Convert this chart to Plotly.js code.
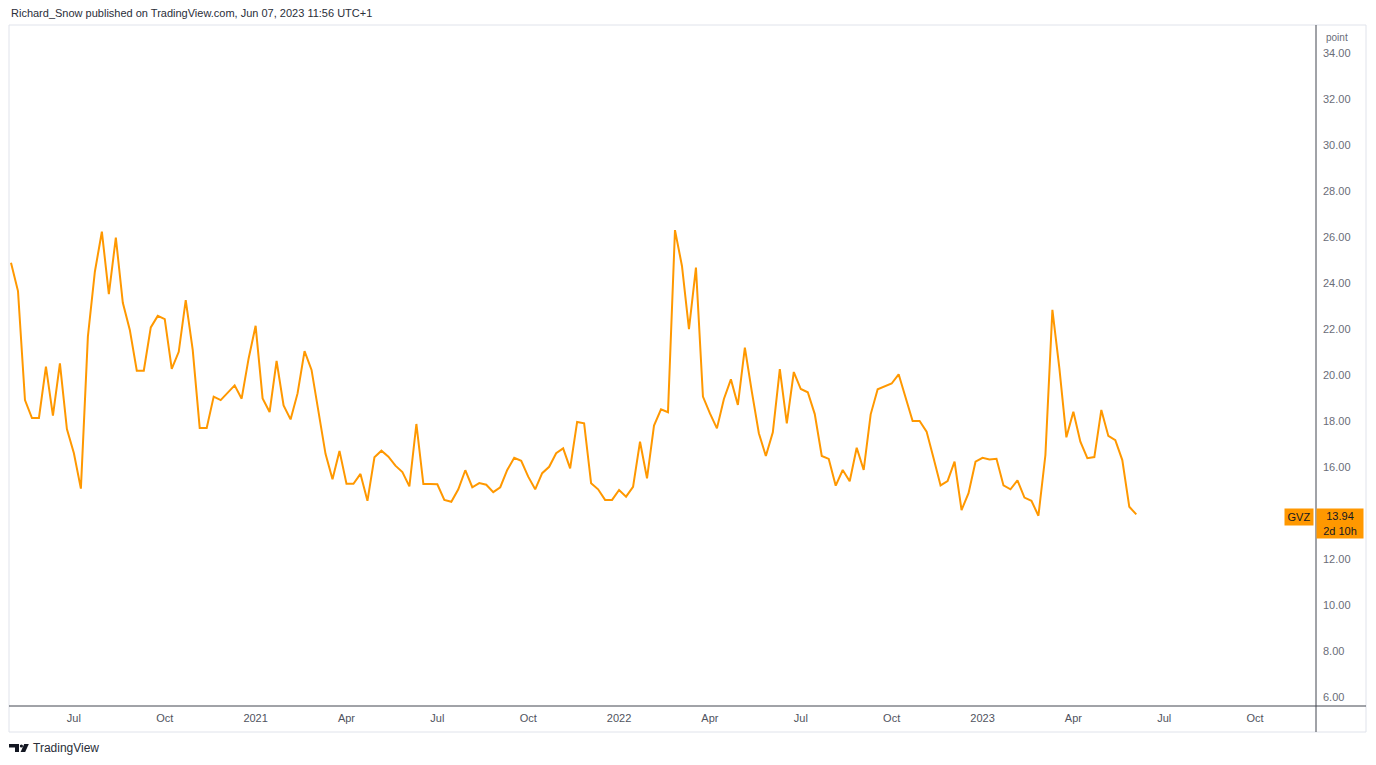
<!DOCTYPE html>
<html>
<head>
<meta charset="utf-8">
<script src="https://cdn.plot.ly/plotly-3.0.1.min.js"></script>
<style>
html,body{margin:0;padding:0;background:#ffffff;}
#chart{width:1376px;height:765px;}
</style>
</head>
<body>
<div id="chart"></div>
<script>
// ---- data ----
const seriesName = 'GVZ';
const firstBarDate = '2020-05-04';      // first weekly bar (Monday)
const barStepDays = 7;                   // weekly bars
const gvzValues = [
  24.88, 23.65, 18.91, 18.13, 18.13, 20.36, 18.23, 20.51, 17.65, 16.60,
  15.06, 21.67, 24.49, 26.23, 23.52, 25.97, 23.14, 21.96, 20.19, 20.19,
  22.07, 22.57, 22.43, 20.27, 21.01, 23.26, 21.09, 17.70, 17.70, 19.06,
  18.91, 19.24, 19.55, 18.97, 20.72, 22.14, 18.98, 18.39, 20.61, 18.68,
  18.07, 19.20, 21.04, 20.22, 18.40, 16.57, 15.47, 16.70, 15.27, 15.27,
  15.70, 14.53, 16.42, 16.71, 16.45, 16.06, 15.78, 15.16, 17.87, 15.26,
  15.26, 15.25, 14.57, 14.49, 15.03, 15.86, 15.12, 15.30, 15.23, 14.91,
  15.12, 15.87, 16.40, 16.27, 15.58, 15.03, 15.73, 16.01, 16.60, 16.81,
  15.94, 17.96, 17.90, 15.29, 15.03, 14.57, 14.57, 15.00, 14.71, 15.14,
  17.10, 15.51, 17.80, 18.51, 18.38, 26.30, 24.74, 21.99, 24.67, 19.06,
  18.33, 17.68, 18.96, 19.81, 18.70, 21.19, 19.27, 17.47, 16.48, 17.51,
  20.26, 17.90, 20.13, 19.39, 19.25, 18.30, 16.48, 16.35, 15.19, 15.87,
  15.38, 16.84, 15.87, 18.29, 19.38, 19.49, 19.63, 20.03, 19.01, 18.00,
  18.00, 17.54, 16.38, 15.20, 15.39, 16.23, 14.13, 14.86, 16.23, 16.40,
  16.33, 16.36, 15.20, 15.03, 15.42, 14.67, 14.53, 13.88, 16.52, 22.83,
  20.29, 17.29, 18.40, 17.10, 16.38, 16.43, 18.48, 17.35, 17.17, 16.30,
  14.27, 13.94
];
const lastValue = 13.94;
const lastValueCountdown = '2d 10h';
const xTickVals = ['2020-07-06','2020-10-05','2021-01-04','2021-04-05','2021-07-05','2021-10-04',
                   '2022-01-03','2022-04-04','2022-07-04','2022-10-03','2023-01-02','2023-04-03',
                   '2023-07-03','2023-10-02'];
const xTickText = ['Jul','Oct','2021','Apr','Jul','Oct','2022','Apr','Jul','Oct','2023','Apr','Jul','Oct'];
// 14.00 is hidden behind the last-value label in the reference
const yTickVals = [6, 8, 10, 12, 16, 18, 20, 22, 24, 26, 28, 30, 32, 34];
const headerText = 'Richard_Snow published on TradingView.com, Jun 07, 2023 11:56 UTC+1';
const yUnitText = 'point';
const footerText = 'TradingView';

// ---- build dates for weekly bars ----
const startMs = Date.parse(firstBarDate + 'T00:00:00Z');
const barDates = gvzValues.map((_, i) =>
  new Date(startMs + i * barStepDays * 86400000).toISOString().slice(0, 10));

// ---- layout geometry (pixels) ----
const W = 1376, H = 765;
const plotL = 9, plotR = 1316, plotT = 25, plotB = 706;
const pw = plotR - plotL, ph = plotB - plotT;
const px = x => (x - plotL) / pw;
const py = y => (plotB - y) / ph;

const FONT = 'Liberation Sans, Arial, sans-serif';
const ORANGE = '#ff9800';
const AXIS_DARK = '#434651';
const FRAME = '#e0e3eb';

const trace = {
  type: 'scatter',
  mode: 'lines',
  name: seriesName,
  x: barDates,
  y: gvzValues,
  line: {color: ORANGE, width: 2},
  hoverinfo: 'skip'
};

const layout = {
  width: W, height: H,
  margin: {l: plotL, r: W - plotR, t: plotT, b: H - plotB, pad: 0},
  paper_bgcolor: '#ffffff',
  plot_bgcolor: '#ffffff',
  showlegend: false,
  hovermode: false,
  font: {family: FONT, size: 11, color: '#131722'},
  xaxis: {
    type: 'date',
    range: ['2020-05-02', '2023-12-02'],
    tickvals: xTickVals,
    ticktext: xTickText,
    showgrid: false, zeroline: false, showline: false,
    ticks: '',
    tickfont: {family: FONT, size: 11, color: '#50535e'},
    ticklabelstandoff: 4,
    fixedrange: true
  },
  yaxis: {
    side: 'right',
    range: [5.609, 35.217],
    tickvals: yTickVals,
    tickformat: '.2f',
    showgrid: false, zeroline: false, showline: false,
    ticks: '',
    tickfont: {family: FONT, size: 11, color: '#6a6d78'},
    ticklabelstandoff: 6,
    fixedrange: true
  },
  shapes: [
    // outer light frame
    {type: 'rect', xref: 'paper', yref: 'paper', x0: 0, x1: px(1366), y0: py(732), y1: 1,
     line: {color: FRAME, width: 1}, fillcolor: 'rgba(0,0,0,0)', layer: 'below'},
    // price axis separator
    {type: 'line', xref: 'paper', yref: 'paper', x0: 1, x1: 1, y0: py(732), y1: 1,
     line: {color: AXIS_DARK, width: 1}},
    // time axis separator
    {type: 'line', xref: 'paper', yref: 'paper', x0: 0, x1: px(1366), y0: 0, y1: 0,
     line: {color: AXIS_DARK, width: 1}},
    // TradingView logo (decorative)
    {type: 'path', xref: 'paper', yref: 'paper',
     path: `M ${px(9)},${py(744)} L ${px(19)},${py(744)} L ${px(19)},${py(752)} L ${px(15)},${py(752)} L ${px(15)},${py(747.5)} L ${px(9)},${py(747.5)} Z`,
     fillcolor: '#131722', line: {width: 0}},
    {type: 'circle', xref: 'paper', yref: 'paper',
     x0: px(19.8), x1: px(23.0), y0: py(747.6), y1: py(744.4),
     fillcolor: '#131722', line: {width: 0}},
    {type: 'path', xref: 'paper', yref: 'paper',
     path: `M ${px(24.2)},${py(744)} L ${px(28.8)},${py(744)} L ${px(25.2)},${py(752)} L ${px(20.6)},${py(752)} Z`,
     fillcolor: '#131722', line: {width: 0}}
  ],
  annotations: [
    {xref: 'paper', yref: 'paper', x: 0, y: py(13), xanchor: 'left', yanchor: 'middle',
     text: headerText, showarrow: false, font: {family: FONT, size: 11, color: '#2a2e39'}},
    {xref: 'paper', yref: 'paper', x: 1, y: py(37), xanchor: 'left', yanchor: 'middle', xshift: 8,
     text: yUnitText, showarrow: false, font: {family: FONT, size: 10, color: '#6a6d78'}},
    {xref: 'paper', yref: 'paper', x: px(31), y: py(748), xanchor: 'left', yanchor: 'middle',
     text: footerText, showarrow: false, font: {family: FONT, size: 12, color: '#2a2e39'}},
    // last value label on price axis
    {xref: 'paper', yref: 'y', x: 1, y: lastValue, xanchor: 'left', yanchor: 'top', yshift: 6,
     text: lastValue.toFixed(2) + '<br>' + lastValueCountdown, align: 'center',
     showarrow: false, bgcolor: ORANGE, borderpad: 2, width: 42, height: 25,
     font: {family: FONT, size: 11, color: '#131722'}},
    // series name label
    {xref: 'paper', yref: 'y', x: 1, y: lastValue, xanchor: 'right', yanchor: 'top', yshift: 6, xshift: -2,
     text: seriesName, align: 'center',
     showarrow: false, bgcolor: ORANGE, borderpad: 2, width: 24, height: 12,
     font: {family: FONT, size: 11, color: '#131722'}}
  ]
};

Plotly.newPlot('chart', [trace], layout, {staticPlot: true, displayModeBar: false});
</script>
</body>
</html>
